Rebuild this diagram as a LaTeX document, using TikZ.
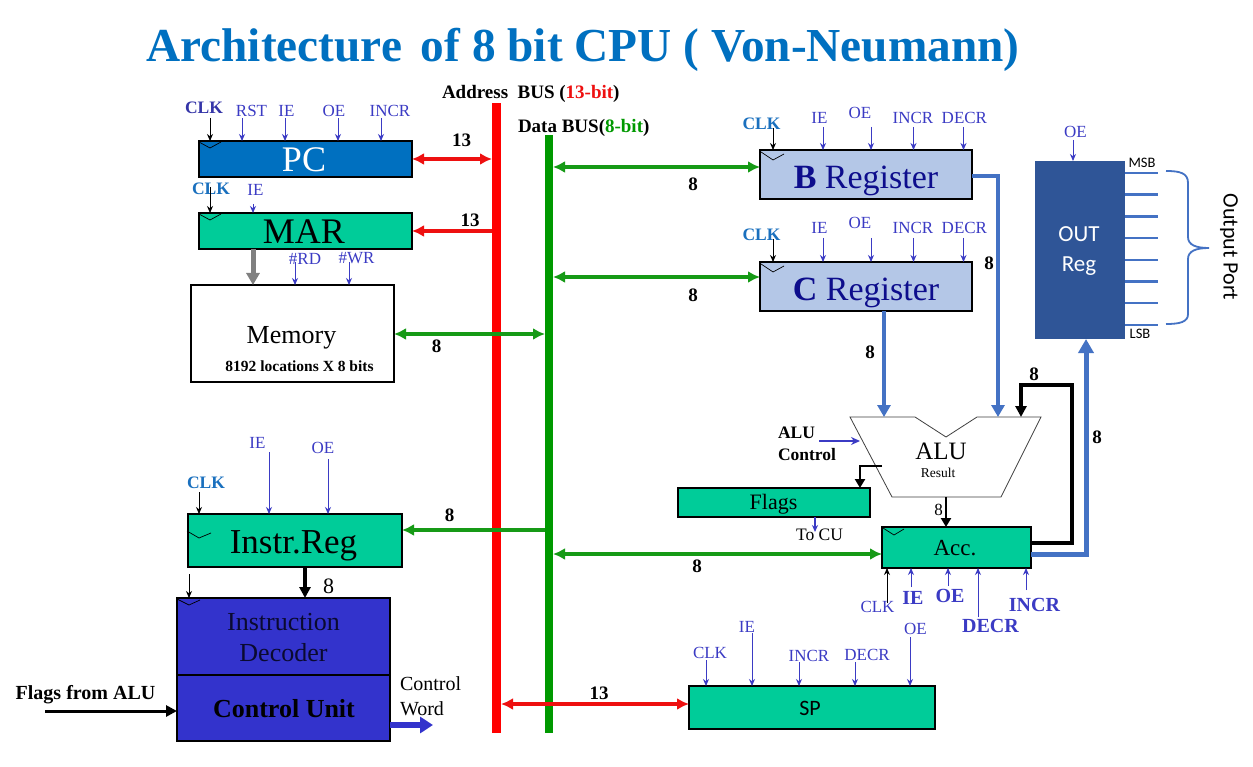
\documentclass[tikz,border=0pt]{standalone}
\usepackage{fontspec}
\setmainfont{Liberation Serif}
\newfontfamily\calib{Carlito}
\usetikzlibrary{arrows.meta}
\definecolor{titleblue}{HTML}{0070C0}
\definecolor{pcblue}{HTML}{0070C0}
\definecolor{tealbox}{HTML}{00CC99}
\definecolor{regblue}{HTML}{B4C7E7}
\definecolor{regtext}{HTML}{0D0D8C}
\definecolor{outblue}{HTML}{2F5597}
\definecolor{cublue}{HTML}{3333CC}
\definecolor{ctlc}{HTML}{3B3BC4}
\definecolor{clkc}{HTML}{1A70BE}
\definecolor{pcclk}{HTML}{3535A8}
\definecolor{busred}{HTML}{FF0000}
\definecolor{arrred}{HTML}{EE1010}
\definecolor{busgreen}{HTML}{009900}
\definecolor{arrgreen}{HTML}{169A16}
\definecolor{alublue}{HTML}{4472C4}
\definecolor{dectext}{HTML}{0A0A30}
\begin{document}
\begin{tikzpicture}[x=1pt,y=-1pt,
  >={Latex[length=12pt,width=12pt]},
  box/.style={draw=black, line width=1.2pt, anchor=north west, inner sep=0pt, outer sep=0pt},
  txt/.style={inner sep=0pt, outer sep=0pt},
  ctl/.style={txt, text=ctlc, font=\fontsize{17}{19}\selectfont},
  ctlb/.style={txt, text=ctlc, font=\fontsize{20}{22}\selectfont\bfseries},
  clkl/.style={txt, text=clkc, font=\fontsize{17.5}{19}\selectfont\bfseries},
  ctla/.style={draw=ctlc, line width=0.9pt, -{Stealth[length=7pt,width=6pt]}},
  blka/.style={draw=black, line width=0.9pt, -{Stealth[length=7pt,width=6pt]}},
  num/.style={txt, font=\fontsize{19}{21}\selectfont\bfseries},
  clktri/.style={draw=black, line width=0.7pt},
  garr/.style={draw=arrgreen, line width=3.5pt},
  rarr/.style={draw=arrred, line width=3.5pt},
  thickblue/.style={draw=alublue, line width=4.5pt, -{Triangle[length=12pt,width=13pt]}},
  thickblack/.style={draw=black, line width=3.2pt, -{Triangle[length=11pt,width=11pt]}}
]
\path[use as bounding box, fill=white] (0,0) rectangle (1253,767);

% ---------- title and bus labels
\node[txt, anchor=base, text=titleblue, font=\fontsize{47.3}{50}\selectfont\bfseries] (title) at (583,62) {Architecture\hspace{0.4em}of 8 bit CPU ( Von-Neumann)};
\node[txt, anchor=base west, font=\fontsize{19}{21}\selectfont\bfseries] (abuslbl) at (442,99) {Address\ \ BUS (\textcolor{arrred}{13-bit})};
\node[txt, anchor=base west, font=\fontsize{19}{21}\selectfont\bfseries] (dbuslbl) at (518,133) {Data BUS(\textcolor{busgreen}{8-bit})};

% ---------- buses
\node[fill=busred, minimum width=9, minimum height=630, inner sep=0, outer sep=0] (abus) at (496.5,418) {};
\node[fill=busgreen, minimum width=8, minimum height=598, inner sep=0, outer sep=0] (dbus) at (549,434) {};

% ---------- boxes
\node[box, fill=pcblue, minimum width=213, minimum height=36] (pc) at (199,141) {};
\node[box, fill=tealbox, minimum width=213, minimum height=36] (mar) at (199,213) {};
\node[box, line width=2.5pt, fill=white, minimum width=203, minimum height=97] (mem) at (191,285) {};
\node[box, fill=regblue, minimum width=212, minimum height=49] (breg) at (760,150) {};
\node[box, fill=regblue, minimum width=212, minimum height=49] (creg) at (760,262) {};
\node[box, draw=none, fill=outblue, minimum width=90, minimum height=178] (outr) at (1035,161) {};
\node[box, fill=tealbox, minimum width=192, minimum height=29] (flags) at (678,488) {};
\node[box, fill=tealbox, minimum width=149, minimum height=41] (acc) at (882,527) {};
\node[box, fill=tealbox, minimum width=214, minimum height=53] (ir) at (188,514) {};
\node[box, line width=2pt, fill=cublue, minimum width=213, minimum height=77] (dec) at (177,598) {};
\node[box, line width=2pt, fill=cublue, minimum width=213, minimum height=66] (cu) at (177,675) {};
\node[box, line width=2.5pt, fill=tealbox, minimum width=246, minimum height=43] (sp) at (689,686) {};

% ALU shape
\coordinate (aluTL) at (850,417);
\coordinate (aluN1) at (915,417);
\coordinate (aluN2) at (946,437);
\coordinate (aluN3) at (977,417);
\coordinate (aluTR) at (1041,417);
\coordinate (aluBR) at (1001,497);
\coordinate (aluBL) at (892,497);
\draw[draw=black!75, line width=0.8pt, fill=white] (aluTL) -- (aluN1) -- (aluN2) -- (aluN3) -- (aluTR) -- (aluBR) -- (aluBL) -- cycle;

% ---------- box texts
\node[txt, anchor=base, text=white, font=\fontsize{36}{36}\selectfont] (pct) at (304,172) {PC};
\node[txt, anchor=base, font=\fontsize{36}{36}\selectfont] (mart) at (304,244) {MAR};
\node[txt, anchor=base, font=\fontsize{26}{28}\selectfont] (memt) at (291.5,343) {Memory};
\node[txt, anchor=base, font=\fontsize{15.5}{17}\selectfont\bfseries] (memsub) at (299.5,371) {8192 locations X 8 bits};
\node[txt, anchor=base, text=regtext, font=\fontsize{34}{34}\selectfont] (bregt) at (866,189) {\textbf{B} Register};
\node[txt, anchor=base, text=regtext, font=\fontsize{34}{34}\selectfont] (cregt) at (866,301) {\textbf{C} Register};
\node[txt, text=white, align=center, font=\calib\fontsize{23}{30}\selectfont] (outt) at (1079,251) {OUT\\Reg};
\node[txt, font=\fontsize{25}{25}\selectfont] (alut) at (941,451) {ALU};
\node[txt, font=\fontsize{13.5}{14}\selectfont] (alur) at (938,472.5) {Result};
\node[txt, anchor=base, font=\fontsize{22}{22}\selectfont] (flagst) at (773.5,509) {Flags};
\node[txt, anchor=base, font=\fontsize{23}{23}\selectfont] (acct) at (955,555) {Acc.};
\node[txt, anchor=base, font=\fontsize{35}{35}\selectfont] (irt) at (293.5,553) {Instr.Reg};
\node[txt, align=center, text=dectext, font=\fontsize{26}{31}\selectfont] (dect) at (283.5,638) {Instruction\\Decoder};
\node[txt, font=\fontsize{26}{26}\selectfont\bfseries] (cut) at (284,709) {Control Unit};
\node[txt, anchor=base, font=\calib\fontsize{22}{22}\selectfont] (spt) at (810,715) {SP};

% clock triangles
\draw[clktri] (199,142) -- (210,148) -- (221,142);
\draw[clktri] (199,214) -- (210,220) -- (221,214);
\draw[clktri] (761,152) -- (773,160) -- (784,154);
\draw[clktri] (761,264) -- (773,272) -- (784,266);
\draw[clktri] (883,528) -- (894,535) -- (904,529);
\draw[clktri] (187,531) -- (199,538) -- (211,533);
\draw[clktri] (177,599) -- (189,605) -- (200,600);

% ---------- PC controls
\node[clkl, text=pcclk] (pcclk) at (204,108) {CLK};
\draw[blka] (210,118) -- (210,0 |- pc.north);
\foreach \n/\lx/\ax in {RST/251.5/242, IE/286.5/285, OE/334/338, INCR/390/381}{
  \node[ctl] (pc\n) at (\lx,111) {\n};
  \draw[ctla] (\ax,118) -- (\ax,0 |- pc.north);
}
% MAR controls
\node[clkl] (marclk) at (211,188.5) {CLK};
\draw[blka] (210,187) -- (210,0 |- mar.north);
\node[ctl] (marIE) at (255.5,190) {IE};
\draw[ctla] (253,204) -- (253,0 |- mar.north);
% memory controls
\node[ctl] (memRD) at (305,258.5) {\#RD};
\node[ctl] (memWR) at (356.5,258.5) {\#WR};
\draw[ctla] (295,262) -- (295,0 |- mem.north);
\draw[ctla] (349,262) -- (349,0 |- mem.north);
\draw[draw=gray, line width=5pt, -{Triangle[length=12pt,width=13pt]}] (253,0 |- mar.south) -- (253,0 |- mem.north);

% B / C controls
\node[clkl] (bclk) at (761.5,124) {CLK};
\draw[blka] (773,128) -- (773,0 |- breg.north);
\node[clkl] (cclk) at (761.5,235) {CLK};
\draw[blka] (773,239) -- (773,0 |- creg.north);
\foreach \n/\lx/\ly/\ax in {IE/819.4/117.5/823, OE/860/112.5/871, INCR/913/117.5/913.5, DECR/964.4/117.5/963.5}{
  \node[ctl] (b\n) at (\lx,\ly) {\n};
  \draw[ctla] (\ax,127) -- (\ax,0 |- breg.north);
  \node[ctl] (c\n) at (\lx,\ly+110) {\n};
  \draw[ctla] (\ax,238) -- (\ax,0 |- creg.north);
}
% OUT reg
\node[ctl] (outOE) at (1075.5,131.5) {OE};
\draw[ctla] (1073,140) -- (1073,0 |- outr.north);
\foreach \i in {0,...,7}{
  \pgfmathsetmacro\yy{173+21.7*\i}
  \draw[draw=alublue, line width=2.5pt] (outr.east |- 0,\yy) -- (1158,\yy);
}
\node[txt, font=\calib\fontsize{14.5}{15}\selectfont] (msb) at (1142,163) {MSB};
\node[txt, font=\calib\fontsize{14.5}{15}\selectfont] (lsb) at (1140,334) {LSB};
\draw[draw=alublue, line width=1.8pt] (1166,171) .. controls (1180,171) and (1188,173) .. (1188,183) -- (1188,237) .. controls (1188,245) and (1196,248) .. (1209,248) .. controls (1196,248) and (1188,251) .. (1188,259) -- (1188,314) .. controls (1188,322) and (1180,324) .. (1166,324);
\node[txt, rotate=-90, font=\calib\fontsize{22}{22}\selectfont] (oport) at (1229,247) {Output Port};

% ---------- bus connections
\draw[rarr, <->] (pc.east) -- (pc.east -| abus.west);
\node[num] (n13a) at (461.5,140.5) {13};
\draw[rarr, ->] (mar.east -| abus.west) -- (mar.east);
\node[num] (n13b) at (470,220.5) {13};
\draw[garr, <->] (mem.east |- 0,334) -- (dbus.west |- 0,334);
\node[num] (n8m) at (436.5,346) {8};
\draw[garr, <->] (dbus.east |- 0,167) -- (breg.west |- 0,167);
\node[num] (n8b) at (693,184) {8};
\draw[garr, <->] (dbus.east |- 0,277) -- (creg.west |- 0,277);
\node[num] (n8c) at (693,295) {8};
\draw[garr, ->] (dbus.west |- 0,530) -- (ir.east |- 0,530);
\node[num] (n8ir) at (449.5,515) {8};
\draw[garr, <->] (dbus.east |- 0,554) -- (acc.west |- 0,554);
\node[num] (n8acc) at (697,566) {8};
\draw[rarr, <->] (abus.east |- 0,704) -- (sp.west |- 0,704);
\node[num] (n13sp) at (599,693) {13};

% ---------- ALU paths
\draw[thickblue] (breg.east |- 0,176) -- (998,176) -- (998,0 |- aluTR);
\node[num] (n8bo) at (989,263) {8};
\draw[thickblue] (884,0 |- creg.south) -- (884,0 |- aluTL);
\node[num] (n8co) at (870,352) {8};
\node[txt, anchor=north west, align=left, font=\fontsize{17.5}{22}\selectfont\bfseries] (aluctl) at (778,427) {ALU\\Control};
\draw[draw=ctlc, line width=2.5pt, -{Stealth[length=9pt,width=8pt]}] (819,441) -- (860,441);
\draw[thickblack, line width=2.8pt, -{Triangle[length=9pt,width=10pt]}] (882,466) -- (860,466) -- (860,0 |- flags.north);
\draw[ctla, line width=1.3pt] (815,0 |- flags.south) -- (815,532);
\node[txt, font=\fontsize{17.5}{19}\selectfont] (tocu) at (819.5,535) {To CU};
\draw[thickblack, line width=2.8pt, -{Triangle[length=9pt,width=10pt]}] (946,0 |- aluBL) -- (946,0 |- acc.north);
\node[txt, font=\fontsize{17}{17}\selectfont] (n8alu) at (938.5,510) {8};
\draw[thickblack] (acc.east |- 0,543) -- (1072,543) -- (1072,385) -- (1021,385) -- (1021,0 |- aluTR);
\node[num] (n8fb) at (1034,374.5) {8};
\draw[thickblue, line width=5pt, -{Triangle[length=14pt,width=15pt]}] (acc.east |- 0,554) -- (1086,554) -- (1086,0 |- outr.south);
\node[num] (n8out) at (1097,437.5) {8};

% Acc controls
\node[ctl] (accclk) at (877.5,606.5) {CLK};
\draw[blka] (887,603) -- (887,0 |- acc.south);
\node[ctlb] (accIE) at (913,598) {IE};
\draw[ctla] (911,587) -- (911,0 |- acc.south);
\node[ctlb] (accOE) at (950,596) {OE};
\draw[ctla] (948,586) -- (948,0 |- acc.south);
\node[ctlb] (accDECR) at (990.5,626) {DECR};
\draw[ctla] (978,617) -- (978,0 |- acc.south);
\node[ctlb] (accINCR) at (1034.5,605) {INCR};
\draw[ctla] (1026,590) -- (1026,0 |- acc.south);

% ---------- IR, decoder, control unit
\node[clkl] (irclk) at (206,483) {CLK};
\draw[blka] (199,492) -- (199,0 |- ir.north);
\node[ctl] (irIE) at (257.5,442.5) {IE};
\draw[ctla] (269,452) -- (269,0 |- ir.north);
\node[ctl] (irOE) at (323,448) {OE};
\draw[ctla] (328,459) -- (328,0 |- ir.north);
\draw[thickblack, line width=3.5pt] (305,0 |- ir.south) -- (305,0 |- dec.north);
\node[txt, font=\fontsize{22}{22}\selectfont] (n8dec) at (328.5,586.5) {8};
\draw[blka] (189,574) -- (189,0 |- dec.north);
\node[txt, font=\fontsize{20}{22}\selectfont\bfseries] (flagsalu) at (85.5,695) {Flags from ALU};
\draw[thickblack, line width=3pt] (45,711) -- (cu.west |- 0,711);
\node[txt, anchor=north west, align=left, font=\fontsize{20}{25}\selectfont] (cword) at (400,677) {Control\\Word};
\draw[draw=cublue, line width=6pt, -{Triangle[length=13pt,width=16pt]}] (cu.east |- 0,725) -- (433,725);

% ---------- SP controls
\node[ctl] (spclk) at (710,652.5) {CLK};
\draw[ctla] (706,660) -- (706,0 |- sp.north);
\node[ctl] (spIE) at (747,626.5) {IE};
\draw[ctla] (752,633) -- (752,0 |- sp.north);
\node[ctl] (spINCR) at (809,655.5) {INCR};
\draw[ctla] (799,662) -- (799,0 |- sp.north);
\node[ctl] (spDECR) at (867,654.5) {DECR};
\draw[ctla] (855,662) -- (855,0 |- sp.north);
\node[ctl] (spOE) at (915.5,629) {OE};
\draw[ctla] (910,637) -- (910,0 |- sp.north);
\end{tikzpicture}
\end{document}
